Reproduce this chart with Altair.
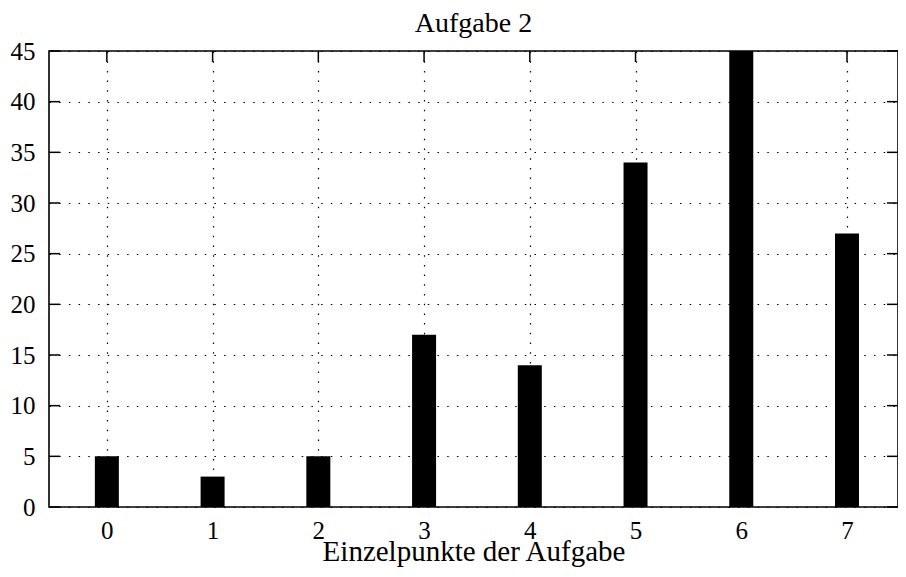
import altair as alt
import pandas as pd

points = [0, 1, 2, 3, 4, 5, 6, 7]
counts = [5, 3, 5, 17, 14, 34, 45, 27]
y_ticks = [0, 5, 10, 15, 20, 25, 30, 35, 40, 45]

W, H = 849, 456
FONT = "Liberation Serif"
FS = 25
TFS = 28

df = pd.DataFrame({"p": points, "n": counts})
xt = pd.DataFrame({"p": points})
yt = pd.DataFrame({"v": y_ticks})

xs = alt.Scale(domain=[-0.5, 7.435], nice=False, zero=False)
ys = alt.Scale(domain=[0, 45], nice=False)

bars = alt.Chart(df).mark_bar(size=24, color="black").encode(
    x=alt.X("p:Q", scale=xs, title="Einzelpunkte der Aufgabe",
            axis=alt.Axis(values=points, format="d", grid=True, gridDash=[1.5, 8.2],
                          gridColor="black", gridOpacity=1, gridWidth=1.2, tickSize=0,
                          domain=False, labelFontSize=FS, labelFont=FONT, labelPadding=11,
                          labelColor="black", titleFont=FONT, titleFontSize=29,
                          titleFontWeight="normal", titleColor="black", titlePadding=-6)),
    y=alt.Y("n:Q", scale=ys, title=None,
            axis=alt.Axis(values=y_ticks, format="d", grid=True, gridDash=[1.5, 8.2],
                          gridColor="black", gridOpacity=1, gridWidth=1.2, tickSize=0,
                          domain=False, labelFontSize=FS, labelFont=FONT, labelPadding=14,
                          labelColor="black")),
)

tick_style = dict(color="black", strokeWidth=1.5)
bottom_t = alt.Chart(xt).mark_rule(**tick_style).encode(x=alt.X("p:Q", scale=xs), y=alt.value(H), y2=alt.value(H - 11))
top_t = alt.Chart(xt).mark_rule(**tick_style).encode(x=alt.X("p:Q", scale=xs), y=alt.value(0), y2=alt.value(11))
left_t = alt.Chart(yt).mark_rule(**tick_style).encode(y=alt.Y("v:Q", scale=ys), x=alt.value(0), x2=alt.value(11))
right_t = alt.Chart(yt).mark_rule(**tick_style).encode(y=alt.Y("v:Q", scale=ys), x=alt.value(W - 11), x2=alt.value(W))

chart = alt.layer(bars, bottom_t, top_t, left_t, right_t).properties(
    width=W, height=H,
    background="white",
    title=alt.TitleParams("Aufgabe 2", font=FONT, fontSize=TFS, fontWeight="normal",
                          color="black", offset=1),
    padding={"left": 41, "top": 43, "right": 0, "bottom": 62},
    autosize=alt.AutoSizeParams(type="none"),
).configure_view(stroke="black", strokeWidth=1.6)

chart.save("out.html", embed_options={"renderer": "svg", "actions": False})
